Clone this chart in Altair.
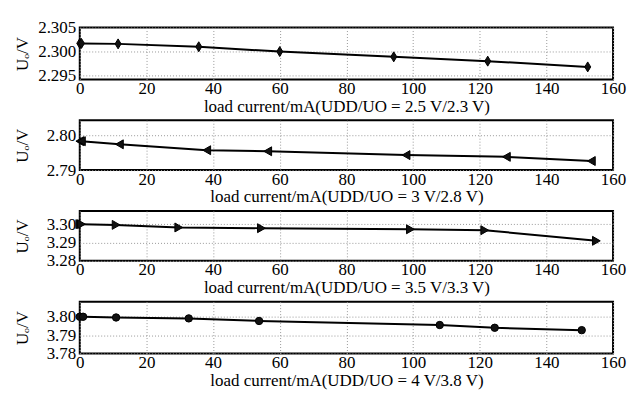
import altair as alt
import pandas as pd

# Panel 1: U_DD/U_O = 2.5 V / 2.3 V
x1 = [0, 0.5, 11.5, 35.7, 60, 94.2, 122.4, 152.4]
y1 = [2.3017, 2.3017, 2.3016, 2.3010, 2.3000, 2.2989, 2.2980, 2.2968]
# Panel 2: 3 V / 2.8 V
x2 = [0, 0.5, 11.9, 38.1, 56.4, 97.9, 128.0, 153.5]
y2 = [2.7983, 2.7983, 2.7974, 2.7957, 2.7954, 2.7943, 2.7938, 2.7926]
# Panel 3: 3.5 V / 3.3 V
x3 = [0, 0.5, 10.9, 29.7, 54.5, 99.2, 121.5, 155.0]
y3 = [3.3000, 3.3000, 3.2996, 3.2982, 3.2978, 3.2972, 3.2967, 3.2909]
# Panel 4: 4 V / 3.8 V
x4 = [0, 1.0, 10.9, 32.7, 53.8, 108.0, 124.5, 150.6]
y4 = [3.8000, 3.8000, 3.7996, 3.7991, 3.7977, 3.7955, 3.7940, 3.7927]

x_ticks = [0, 20, 40, 60, 80, 100, 120, 140, 160]
titles = [
    "load current/mA(UDD/UO = 2.5 V/2.3 V)",
    "load current/mA(UDD/UO = 3 V/2.8 V)",
    "load current/mA(UDD/UO = 3.5 V/3.3 V)",
    "load current/mA(UDD/UO = 4 V/3.8 V)",
]
y_ticks = [
    [2.295, 2.300, 2.305],
    [2.79, 2.80],
    [3.28, 3.29, 3.30],
    [3.78, 3.79, 3.80],
]
y_domains = [
    [2.2942, 2.305],
    [2.79, 2.8043],
    [3.28, 3.3072],
    [3.78, 3.8082],
]
y_formats = [".3f", ".2f", ".2f", ".2f"]
shapes = ["M0,-1L0.6,0L0,1L-0.6,0Z", "triangle-left", "triangle-right", "circle"]
sizes = [100, 80, 80, 55]
heights = [52, 50, 50, 52]
xs = [x1, x2, x3, x4]
ys = [y1, y2, y3, y4]

FONT = "Liberation Serif, Times New Roman, DejaVu Serif, serif"

panels = []
for i in range(4):
    df = pd.DataFrame({"x": xs[i], "y": ys[i]})
    xenc = alt.X(
        "x:Q",
        scale=alt.Scale(domain=[0, 160], nice=False, zero=False),
        axis=alt.Axis(values=x_ticks, title=titles[i], labelFlush=False,
                      tickSize=0, labelPadding=1, titlePadding=2, domain=False),
    )
    yenc = alt.Y(
        "y:Q",
        scale=alt.Scale(domain=y_domains[i], nice=False, zero=False),
        axis=alt.Axis(values=y_ticks[i], format=y_formats[i], title="Uₒ/V",
                      tickSize=0, labelPadding=4, titlePadding=6,
                      minExtent=42, maxExtent=42, domain=False),
    )
    base = alt.Chart(df).encode(x=xenc, y=yenc)
    line = base.mark_line(color="black", strokeWidth=2)
    pts = base.mark_point(shape=shapes[i], size=sizes[i], filled=True,
                          color="#111111", stroke="black", strokeWidth=1, opacity=1)
    panels.append(alt.layer(line, pts).properties(width=535, height=heights[i]))

chart = alt.vconcat(*panels, spacing=4).properties(
    padding={"top": 9, "left": 5, "right": 0, "bottom": 2}
).configure_view(
    stroke="black", strokeWidth=2
).configure_axis(
    labelFont=FONT, titleFont=FONT,
    labelFontSize=17, titleFontSize=17, labelColor="black", titleColor="black",
    titleFontWeight="normal", gridColor="#999999", gridDash=[1, 2], gridWidth=1,
    gridOpacity=1,
)

chart.save("out.html", embed_options={"renderer": "svg", "actions": False})
